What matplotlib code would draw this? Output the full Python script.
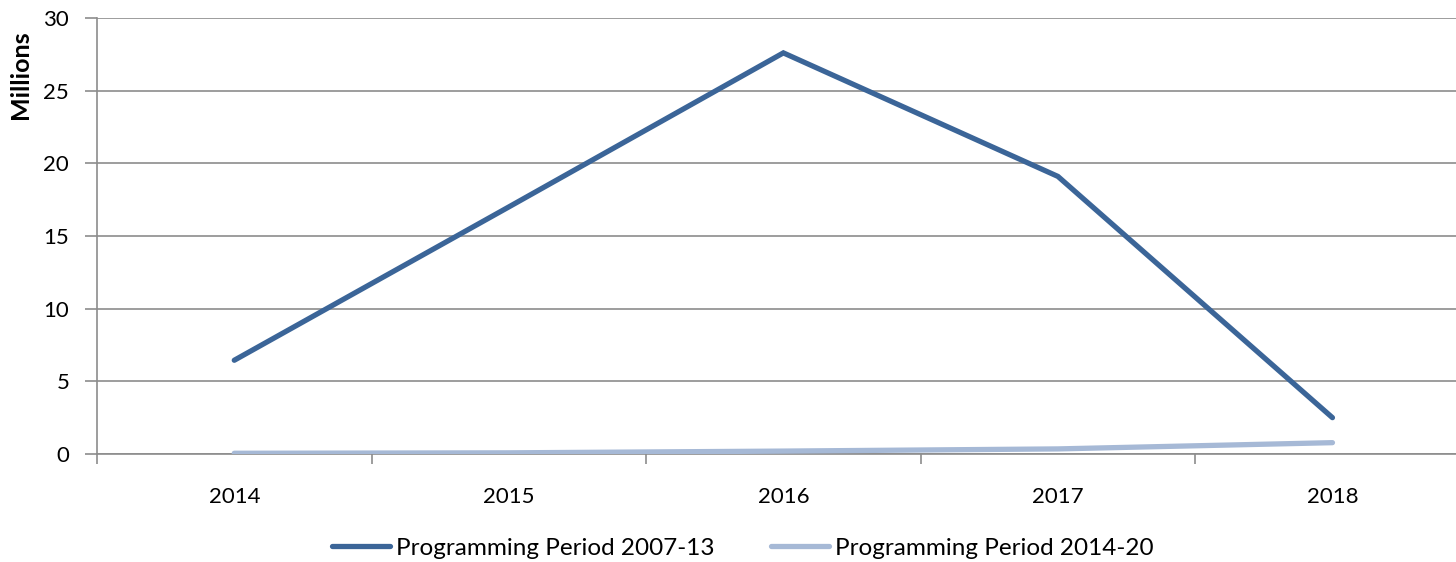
import matplotlib.pyplot as plt

years = ["2014", "2015", "2016", "2017", "2018"]
period_2007_13 = [6.45, 17.0, 27.6, 19.1, 2.5]
period_2014_20 = [0.05, 0.08, 0.2, 0.35, 0.78]
labels = ["Programming Period 2007-13", "Programming Period 2014-20"]

plt.rcParams['font.family'] = ['Lato', 'DejaVu Sans']

fig = plt.figure(figsize=(14.56, 5.62), dpi=100)
ax = fig.add_axes([97 / 1456, 108 / 562, 1 - 97 / 1456, 436 / 562])

x = list(range(len(years)))
ax.plot(x, period_2007_13, color='#3b6598', lw=3.8, solid_capstyle='round',
        solid_joinstyle='miter', label=labels[0], zorder=3)
ax.plot(x, period_2014_20, color='#a6b9d6', lw=3.8, solid_capstyle='round',
        label=labels[1], zorder=3)

ax.set_yticks([0, 5, 10, 15, 20, 25, 30])
ax.yaxis.grid(True, color='#8c8c8c', lw=1.2)
ax.set_axisbelow(True)

# category ticks between years, labels at centers
ax.set_xticks([i - 0.5 for i in range(len(years) + 1)])
ax.set_xticklabels([])
ax.set_xticks(x, minor=True)
ax.set_xticklabels(years, minor=True)
ax.set_ylim(0, 30)
ax.set_xlim(-0.5, 4.45)
ax.tick_params(axis='x', which='major', length=7, color='#8c8c8c', width=1.2)
ax.tick_params(axis='x', which='minor', length=0, pad=24, labelsize=16)
ax.tick_params(axis='y', length=9, color='#8c8c8c', width=1.2, labelsize=16, pad=11)

for s in ['top', 'right']:
    ax.spines[s].set_visible(False)
for s in ['left', 'bottom']:
    ax.spines[s].set_color('#8c8c8c')
    ax.spines[s].set_linewidth(1.2)

fig.text(21 / 1456, 1 - 75 / 562, "Millions", rotation=90, ha='center', va='center',
         fontsize=18, fontweight='bold')

fig.legend(loc='center', bbox_to_anchor=(743 / 1456, 1 - 548 / 562), ncol=2,
           frameon=False, fontsize=17.5, handlelength=2.4, handletextpad=0.25,
           columnspacing=2.3)

fig.savefig("out.png", dpi=100)
